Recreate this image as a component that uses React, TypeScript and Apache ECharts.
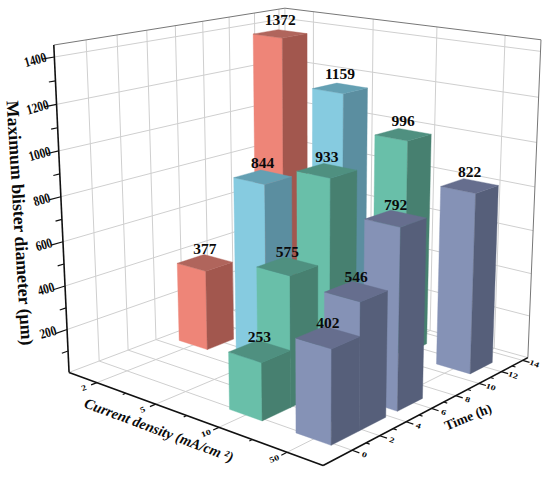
import React, { useEffect, useRef } from "react";
import * as echarts from "echarts";

const densityLabels = ["2", "5", "10", "50"];
const densityPositions = [1, 2, 3, 4];
const densityMinor = [1.5, 2.5, 3.5];
const timeMajor = [0, 2, 4, 6, 8, 10, 12, 14];
const timeMinor = [1, 3, 5, 7, 9, 11, 13];
const valueMajor = [200, 400, 600, 800, 1000, 1200, 1400];
const valueMinor = [100, 300, 500, 700, 900, 1100, 1300];

// [density position, time, blister diameter], painted far to near
const redBars = [[1, 11.75, 1372], [1, 5.7, 377]];
const blueBars = [[2, 11.75, 1159], [2, 5.7, 844]];
const greenBars = [[3, 11.75, 996], [3, 5.7, 933], [3, 2.8, 575], [3, 0.8, 253]];
const purpleBars = [[4, 11.75, 822], [4, 5.7, 792], [4, 2.8, 546], [4, 0.8, 402]];

const X0 = 0.5, X1 = 4.5, Y0 = -2, Y1 = 14.5, Z0 = 0, Z1 = 1450;
const HALF_X = 0.25, HALF_Y = 1;
const FONT = '"Liberation Serif"';

// Calibration of the perspective camera: box corners → page pixels
const calibration: number[][] = [
  [X1, Y0, Z0, 323, 466], [X0, Y0, Z0, 68, 372], [X1, Y1, Z0, 527, 357], [X0, Y1, Z0, 288, 291],
  [X0, Y0, Z1, 55, 45], [X0, Y1, Z1, 283, 8], [X1, Y1, Z1, 542, 40],
];

function solveCamera(): number[] {
  const rows: number[][] = [];
  const rhs: number[] = [];
  const norm = (x: number, y: number, z: number) => [(x - X0) / (X1 - X0), (y - Y0) / (Y1 - Y0), (z - Z0) / (Z1 - Z0)];
  for (const [x, y, z, px, py] of calibration) {
    const [u, v, w] = norm(x, y, z);
    rows.push([u, v, w, 1, 0, 0, 0, 0, -px * u, -px * v, -px * w]); rhs.push(px);
    rows.push([0, 0, 0, 0, u, v, w, 1, -py * u, -py * v, -py * w]); rhs.push(py);
  }
  const n = 11;
  const A = Array.from({ length: n }, (_, i) => {
    const r = new Array(n + 1).fill(0);
    rows.forEach((row, k) => {
      for (let j = 0; j < n; j++) r[j] += row[i] * row[j];
      r[n] += row[i] * rhs[k];
    });
    return r;
  });
  for (let c = 0; c < n; c++) {
    let p = c;
    for (let r = c + 1; r < n; r++) if (Math.abs(A[r][c]) > Math.abs(A[p][c])) p = r;
    [A[c], A[p]] = [A[p], A[c]];
    for (let r = 0; r < n; r++) {
      if (r === c) continue;
      const f = A[r][c] / A[c][c];
      for (let j = c; j <= n; j++) A[r][j] -= f * A[c][j];
    }
  }
  return A.map((r, i) => r[n] / r[i]);
}
const cam = solveCamera();
function project(x: number, y: number, z: number): number[] {
  const u = (x - X0) / (X1 - X0), v = (y - Y0) / (Y1 - Y0), w = (z - Z0) / (Z1 - Z0);
  const d = cam[8] * u + cam[9] * v + cam[10] * w + 1;
  return [(cam[0] * u + cam[1] * v + cam[2] * w + cam[3]) / d, (cam[4] * u + cam[5] * v + cam[6] * w + cam[7]) / d];
}

const GRID = "#cfcfcf", EDGE = "#777777", AXIS = "#111111";
type Seg = number[];
const gridSegs: Seg[] = [];
for (const v of valueMajor) {
  gridSegs.push([X0, Y0, v, X0, Y1, v], [X0, Y1, v, X1, Y1, v]);
}
for (const t of timeMajor) {
  gridSegs.push([X0, t, Z0, X0, t, Z1], [X0, t, Z0, X1, t, Z0]);
}
for (const d of densityPositions) {
  gridSegs.push([d, Y1, Z0, d, Y1, Z1], [d, Y0, Z0, d, Y1, Z0]);
}
gridSegs.push([X0, Y1, Z0, X0, Y1, Z1], [X0, Y0, Z0, X0, Y1, Z0], [X0, Y1, Z0, X1, Y1, Z0]);
const edgeSegs: Seg[] = [
  [X0, Y0, Z1, X0, Y1, Z1], [X0, Y1, Z1, X1, Y1, Z1], [X1, Y1, Z0, X1, Y1, Z1],
];
const axisSegs: Seg[] = [
  [X0, Y0, Z0, X0, Y0, Z1], [X0, Y0, Z0, X1, Y0, Z0], [X1, Y0, Z0, X1, Y1, Z0],
];
const tickSegs: Seg[] = [
  ...densityPositions.map((d) => [d, Y0, Z0, d, Y0 - 0.38, Z0]),
  ...densityMinor.map((d) => [d, Y0, Z0, d, Y0 - 0.2, Z0]),
  ...timeMajor.map((t) => [X1, t, Z0, X1 + 0.1, t, Z0]),
  ...timeMinor.map((t) => [X1, t, Z0, X1 + 0.05, t, Z0]),
  ...valueMajor.map((v) => [X0, Y0, v, X0, Y0 - 0.75, v]),
  ...valueMinor.map((v) => [X0, Y0, v, X0, Y0 - 0.4, v]),
];

function segSeries(data: Seg[], stroke: string, lineWidth: number) {
  return {
    type: "custom", coordinateSystem: "none", silent: true, data,
    renderItem: (_: any, api: any) => {
      const a = project(api.value(0), api.value(1), api.value(2));
      const b = project(api.value(3), api.value(4), api.value(5));
      return { type: "line", shape: { x1: a[0], y1: a[1], x2: b[0], y2: b[1] }, style: { stroke, lineWidth } };
    },
  };
}

function barSeries(data: number[][], front: string, side: string, top: string) {
  return {
    type: "custom", coordinateSystem: "none", silent: true, data,
    renderItem: (_: any, api: any) => {
      const x = api.value(0), t = api.value(1), v = api.value(2);
      const xa = x - HALF_X, xb = x + HALF_X, ya = t - HALF_Y, yb = t + HALF_Y;
      const poly = (pts: number[][], fill: string) => ({
        type: "polygon", shape: { points: pts.map((p) => project(p[0], p[1], p[2])) },
        style: { fill, stroke: fill, lineWidth: 0.4 },
      });
      const c = project(x, t, v);
      return {
        type: "group",
        children: [
          poly([[xa, ya, 0], [xb, ya, 0], [xb, ya, v], [xa, ya, v]], front),
          poly([[xb, ya, 0], [xb, yb, 0], [xb, yb, v], [xb, ya, v]], side),
          poly([[xa, ya, v], [xb, ya, v], [xb, yb, v], [xa, yb, v]], top),
          {
            type: "text", x: c[0], y: c[1] - 14.5,
            style: { text: String(v), font: `bold 15.5px ${FONT}`, fill: "#0a0a0a", align: "center", verticalAlign: "middle" },
          },
        ],
      };
    },
  };
}

const deg = (d: number) => (d * Math.PI) / 180;
function label(text: string, p: number[], rotationDeg: number, font: string, scaleX = 1, scaleY = 1) {
  return {
    type: "text", x: p[0], y: p[1], rotation: deg(rotationDeg), scaleX, scaleY, silent: true, z: 100,
    style: { text, font, fill: "#0a0a0a", align: "center", verticalAlign: "middle" },
  };
}

function shift(p: number[], dx: number, dy: number) { return [p[0] + dx, p[1] + dy]; }

const graphics = [
  ...valueMajor.map((v) => label(String(v), shift(project(X0, Y0, v), -19, 3), 16, `bold 14px ${FONT}`, 0.8, 1)),
  ...densityLabels.map((s, i) => label(s, project(densityPositions[i], Y0 - 0.85, Z0), 22, `bold 10px ${FONT}`, 1, 0.8)),
  ...timeMajor.map((t) => label(String(t), project(X1 + 0.17, t, Z0), -20, `bold 10px ${FONT}`, 1, 0.75)),
  label("Maximum blister diameter (μm)", [20, 223], -86.5, `bold 17.8px ${FONT}`),
  label("Current density (mA/cm ²)", [159, 430], -20.5, `italic bold 14.6px ${FONT}`),
  label("Time (h)", [468, 417], 22, `bold 13.5px ${FONT}`),
];

export default function App() {
  const ref = useRef<HTMLDivElement>(null);
  useEffect(() => {
    document.body.style.margin = "0";
    const chart = echarts.init(ref.current!, undefined, { renderer: "svg" });
    chart.setOption({
      animation: false,
      backgroundColor: "#ffffff",
      graphic: graphics,
      series: [
        segSeries(gridSegs, GRID, 1),
        segSeries(edgeSegs, EDGE, 1),
        segSeries(axisSegs, AXIS, 1.6),
        segSeries(tickSegs, AXIS, 1.2),
        barSeries(redBars, "#ee8578", "#a2574e", "#b0655c"),
        barSeries(blueBars, "#86cbe0", "#5b8ea0", "#64a0b3"),
        barSeries(greenBars, "#69bfa9", "#478070", "#4f9080"),
        barSeries(purpleBars, "#8592b6", "#565f7a", "#666e8e"),
      ],
    });
    return () => chart.dispose();
  }, []);
  return <div ref={ref} style={{ width: 550, height: 479 }} />;
}
